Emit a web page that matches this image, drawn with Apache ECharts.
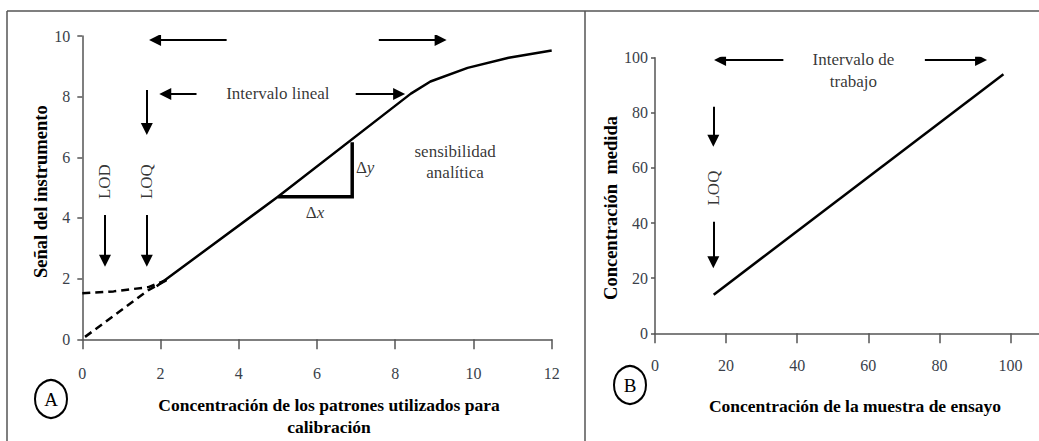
<!DOCTYPE html>
<html>
<head>
<meta charset="utf-8">
<script src="https://cdn.jsdelivr.net/npm/echarts@6/dist/echarts.min.js"></script>
<style>
  html, body { margin: 0; padding: 0; background: #fff; }
  #chart { width: 1039px; height: 441px; }
</style>
</head>
<body>
<div id="chart"></div>
<script>
// ---- Panel A: calibration curve (signal vs. standard concentration) ----
const calibSolid   = [[1.9, 1.75], [5.0, 4.7], [8.4, 8.1], [8.9, 8.5], [9.85, 8.95], [10.9, 9.28], [12.0, 9.52]];
const extrapDiag   = [[0.07, 0.08], [1.69, 1.62], [2.2, 1.98]];
const blankLevel   = [[0.0, 1.52], [0.8, 1.58], [1.69, 1.72], [2.2, 1.98]];
const slopeTriangle = [[5.0, 4.7], [6.9, 4.7], [6.9, 6.5]];
const xTicksA = [0, 2, 4, 6, 8, 10, 12];
const yTicksA = [0, 2, 4, 6, 8, 10];

// arrows: [from, to]; the head is centred on the end point
const arrowsA = [
  [[3.69, 9.87], [1.86, 9.87]],
  [[7.58, 9.87], [9.16, 9.87]],
  [[2.92, 8.09], [2.12, 8.09]],
  [[6.99, 8.09], [8.10, 8.09]],
  [[1.65, 8.22], [1.65, 6.93]],
  [[0.58, 4.10], [0.58, 2.59]],
  [[1.65, 4.10], [1.65, 2.59]]
];
const notesA = [
  { name: 'Intervalo lineal', value: [5.0, 8.09] },
  { name: 'sensibilidad', value: [9.53, 6.18] },
  { name: 'analítica', value: [9.53, 5.49] }
];
const rotatedNotesA = [
  { name: 'LOD', value: [0.58, 5.2] },
  { name: 'LOQ', value: [1.65, 5.2] }
];
const deltaNotesA = [
  { name: 'x', value: [5.95, 4.19] },
  { name: 'y', value: [7.23, 5.68] }
];

// ---- Panel B: measured vs. sample concentration ----
const workLine = [[16.5, 14], [98, 94]];
const ticksB = [0, 20, 40, 60, 80, 100];
const arrowsB = [
  [[36.1, 99.2], [18.3, 99.2]],
  [[75.9, 99.2], [91.7, 99.2]],
  [[16.4, 82.2], [16.4, 69.9]],
  [[16.4, 40.5], [16.4, 25.8]]
];
const notesB = [
  { name: 'Intervalo de', value: [55.8, 99.2] },
  { name: 'trabajo', value: [55.8, 91.3] }
];
const rotatedNotesB = [
  { name: 'LOQ', value: [16.4, 52.7] }
];

const SERIF = 'Liberation Serif, serif';
const AXIS_COLOR = '#555';
const LABEL_COLOR = '#3a3f4a';

function valueAxis(o) {
  return Object.assign({
    type: 'value',
    splitLine: { show: false },
    axisLine: { show: true, lineStyle: { color: AXIS_COLOR, width: 1.5 } },
    axisTick: { show: true, lineStyle: { color: AXIS_COLOR, width: 1.5 } },
    axisLabel: { color: LABEL_COLOR, fontFamily: SERIF, fontSize: 16 },
    nameTextStyle: { fontFamily: SERIF, fontSize: 16, fontWeight: 'bold', color: '#000' },
    nameLocation: 'middle'
  }, o);
}

function arrowSeries(list, gi) {
  return {
    type: 'lines',
    coordinateSystem: 'cartesian2d',
    xAxisIndex: gi, yAxisIndex: gi,
    symbol: ['none', 'triangle'],
    symbolSize: 12,
    silent: true,
    lineStyle: { color: '#000', width: 2, opacity: 1, curveness: 0 },
    data: list.map(a => ({ coords: a }))
  };
}

function noteSeries(list, gi, extra) {
  return {
    type: 'scatter',
    xAxisIndex: gi, yAxisIndex: gi,
    symbolSize: 0,
    silent: true,
    data: list,
    label: Object.assign({
      show: true,
      position: 'inside',
      formatter: p => p.name,
      color: '#000',
      fontFamily: SERIF,
      fontSize: 17
    }, extra || {})
  };
}

const chart = echarts.init(document.getElementById('chart'), null, { renderer: 'svg' });

const option = {
  animation: false,
  backgroundColor: '#fff',
  textStyle: { fontFamily: SERIF },
  grid: [
    { left: 82.3, top: 36, width: 469.4, height: 303.3, containLabel: false, outerBoundsMode: 'none' },
    { left: 655, top: 57.7, width: 384, height: 275.6, containLabel: false, outerBoundsMode: 'none' }
  ],
  xAxis: [
    valueAxis({
      gridIndex: 0, min: 0, max: 12, interval: 2,
      axisTick: { show: true, length: 10, lineStyle: { color: AXIS_COLOR, width: 1.5 } },
      axisLabel: { color: LABEL_COLOR, fontFamily: SERIF, fontSize: 16, margin: 26,
                   customValues: xTicksA },
      name: 'Concentración de los patrones utilizados para\ncalibración',
      nameGap: 55,
      nameTextStyle: { fontFamily: SERIF, fontSize: 17.5, fontWeight: 'bold', color: '#000',
                       lineHeight: 22, padding: [0, 0, 0, 24] }
    }),
    valueAxis({
      gridIndex: 1, min: 0, max: 108, interval: 20,
      axisTick: { show: true, length: 10, customValues: ticksB,
                  lineStyle: { color: AXIS_COLOR, width: 1.5 } },
      axisLabel: { color: LABEL_COLOR, fontFamily: SERIF, fontSize: 16, margin: 24,
                   customValues: ticksB },
      name: 'Concentración de la muestra de ensayo',
      nameGap: 64,
      nameTextStyle: { fontFamily: SERIF, fontSize: 17.5, fontWeight: 'bold', color: '#000',
                       padding: [0, 0, 0, 16] }
    })
  ],
  yAxis: [
    valueAxis({
      gridIndex: 0, min: 0, max: 10, interval: 2,
      axisTick: { show: true, length: 5, lineStyle: { color: AXIS_COLOR, width: 1.5 } },
      axisLabel: { color: LABEL_COLOR, fontFamily: SERIF, fontSize: 16, margin: 12,
                   customValues: yTicksA },
      name: 'Señal del instrumento',
      nameGap: 30,
      nameTextStyle: { fontFamily: SERIF, fontSize: 18.5, fontWeight: 'bold', color: '#000',
                       padding: [0, 8, 0, 0] }
    }),
    valueAxis({
      gridIndex: 1, min: 0, max: 100, interval: 20,
      axisTick: { show: true, length: 4, lineStyle: { color: AXIS_COLOR, width: 1.5 } },
      axisLabel: { color: LABEL_COLOR, fontFamily: SERIF, fontSize: 16, margin: 7,
                   customValues: ticksB },
      name: 'Concentración  medida',
      nameGap: 29,
      nameTextStyle: { fontFamily: SERIF, fontSize: 18.5, fontWeight: 'bold', color: '#000',
                       padding: [0, 25, 0, 0] }
    })
  ],
  series: [
    // Panel A curve
    { type: 'line', xAxisIndex: 0, yAxisIndex: 0, data: calibSolid, symbol: 'none', silent: true,
      lineStyle: { color: '#000', width: 2.5 } },
    { type: 'line', xAxisIndex: 0, yAxisIndex: 0, data: extrapDiag, symbol: 'none', silent: true,
      lineStyle: { color: '#000', width: 2.5, type: [8, 5] } },
    { type: 'line', xAxisIndex: 0, yAxisIndex: 0, data: blankLevel, symbol: 'none', silent: true,
      lineStyle: { color: '#000', width: 2.5, type: [8, 5] } },
    { type: 'line', xAxisIndex: 0, yAxisIndex: 0, data: slopeTriangle, symbol: 'none', silent: true,
      lineStyle: { color: '#000', width: 3.5, join: 'miter' } },
    arrowSeries(arrowsA, 0),
    noteSeries(notesA, 0),
    noteSeries(rotatedNotesA, 0, { rotate: 90 }),
    noteSeries(deltaNotesA, 0, {
      formatter: p => '{d|Δ}{v|' + p.name + '}',
      rich: {
        d: { fontFamily: SERIF, fontSize: 17, color: '#000' },
        v: { fontFamily: SERIF, fontSize: 17, fontStyle: 'italic', color: '#000' }
      }
    }),
    // Panel B line
    { type: 'line', xAxisIndex: 1, yAxisIndex: 1, data: workLine, symbol: 'none', silent: true,
      lineStyle: { color: '#000', width: 2.5 } },
    arrowSeries(arrowsB, 1),
    noteSeries(notesB, 1),
    noteSeries(rotatedNotesB, 1, { rotate: 90 })
  ],
  graphic: [
    // frame of the two panels
    { type: 'line', shape: { x1: 7, y1: 11, x2: 1039, y2: 11 }, style: { stroke: '#555', lineWidth: 1.5 } },
    { type: 'line', shape: { x1: 7, y1: 11, x2: 7, y2: 441 }, style: { stroke: '#555', lineWidth: 1.5 } },
    { type: 'line', shape: { x1: 585, y1: 11, x2: 585, y2: 441 }, style: { stroke: '#555', lineWidth: 1.5 } },
    // panel badges
    { type: 'circle', x: 51, y: 399, scaleY: 1.18, shape: { cx: 0, cy: 0, r: 16 },
      style: { fill: 'none', stroke: '#000', lineWidth: 2 } },
    { type: 'text', x: 51, y: 399, style: { text: 'A', fontFamily: SERIF, fontSize: 19,
      fill: '#000', align: 'center', verticalAlign: 'middle' } },
    { type: 'circle', x: 630, y: 385, scaleY: 1.18, shape: { cx: 0, cy: 0, r: 16 },
      style: { fill: 'none', stroke: '#000', lineWidth: 2 } },
    { type: 'text', x: 630, y: 385, style: { text: 'B', fontFamily: SERIF, fontSize: 19,
      fill: '#000', align: 'center', verticalAlign: 'middle' } }
  ]
};

chart.setOption(option);
</script>
</body>
</html>
